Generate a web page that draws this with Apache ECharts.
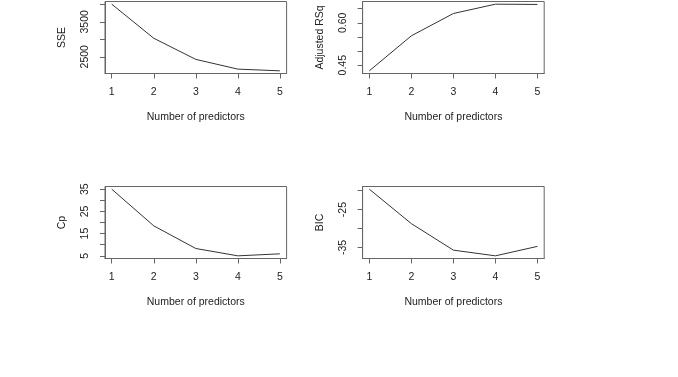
<!DOCTYPE html>
<html>
<head>
<meta charset="utf-8">
<script src="https://cdn.jsdelivr.net/npm/echarts@6/dist/echarts.min.js"></script>
<style>
  html, body { margin: 0; padding: 0; background: #fff; }
  #chart { width: 678px; height: 377px; }
</style>
</head>
<body>
<div id="chart"></div>
<script>
// number of predictors on the x axis
var predictors = [1, 2, 3, 4, 5];
var xTicks = [1, 2, 3, 4, 5];

// criteria
var sse = [4005, 3030, 2425, 2147, 2098];
var adjRsq = [0.430, 0.554, 0.633, 0.666, 0.665];
var cp = [35.0, 18.5, 8.3, 5.0, 5.9];
var bic = [-19.6, -28.7, -35.7, -37.2, -34.7];

// y ticks and which of them carry a label (R drops overlapping ones)
var sseTicks = [2500, 3000, 3500, 4000];
var sseLabels = [2500, 3500];
var rsqTicks = [0.45, 0.5, 0.55, 0.6, 0.65];
var rsqLabels = [0.45, 0.6];
var cpTicks = [5, 10, 15, 20, 25, 30, 35];
var cpLabels = [5, 15, 25, 35];
var bicTicks = [-35, -30, -25, -20];
var bicLabels = [-35, -25];

var font = "'Liberation Sans', Arial, sans-serif";
var boxColor = "#666";
var textColor = "#222";

// R pads the data range by 4% on each side
function padRange(arr) {
  var lo = Math.min.apply(null, arr);
  var hi = Math.max.apply(null, arr);
  var d = (hi - lo) * 0.04;
  return [lo - d, hi + d];
}

var panels = [
  { name: "SSE", values: sse, ticks: sseTicks, labels: sseLabels, digits: 0, left: 105, top: 1.5 },
  { name: "Adjusted RSq", values: adjRsq, ticks: rsqTicks, labels: rsqLabels, digits: 2, left: 362.6, top: 1.5 },
  { name: "Cp", values: cp, ticks: cpTicks, labels: cpLabels, digits: 0, left: 105, top: 186.5 },
  { name: "BIC", values: bic, ticks: bicTicks, labels: bicLabels, digits: 0, left: 362.6, top: 186.5 }
];

var grids = [], xAxes = [], yAxes = [], series = [];
var xr = padRange(predictors);

panels.forEach(function (p, i) {
  var yr = padRange(p.values);
  grids.push({
    left: p.left,
    top: p.top,
    width: 181.6,
    height: 72,
    show: true,
    borderColor: boxColor,
    borderWidth: 1,
    backgroundColor: "transparent",
    containLabel: false,
    outerBoundsMode: "none"
  });
  xAxes.push({
    gridIndex: i,
    type: "value",
    min: xr[0],
    max: xr[1],
    name: "Number of predictors",
    nameLocation: "middle",
    nameGap: 38,
    nameMoveOverlap: false,
    nameTextStyle: { color: textColor, fontFamily: font, fontSize: 10.5 },
    splitLine: { show: false },
    axisLine: { show: true, lineStyle: { color: boxColor } },
    axisTick: { show: true, length: 5, customValues: xTicks, lineStyle: { color: boxColor } },
    axisLabel: { customValues: xTicks, margin: 13, color: textColor, fontFamily: font, fontSize: 10.5 }
  });
  yAxes.push({
    gridIndex: i,
    type: "value",
    min: yr[0],
    max: yr[1],
    name: p.name,
    nameLocation: "middle",
    nameGap: 37,
    nameRotate: 90,
    nameMoveOverlap: false,
    nameTextStyle: { color: textColor, fontFamily: font, fontSize: 10.5 },
    splitLine: { show: false },
    axisLine: { show: true, lineStyle: { color: boxColor } },
    axisTick: { show: true, length: 5, customValues: p.ticks, lineStyle: { color: boxColor } },
    axisLabel: {
      customValues: p.labels,
      rotate: 90,
      margin: 14,
      color: textColor,
      fontFamily: font,
      fontSize: 10.5,
      formatter: function (v) { return v.toFixed(p.digits); }
    }
  });
  series.push({
    type: "line",
    xAxisIndex: i,
    yAxisIndex: i,
    symbol: "none",
    lineStyle: { color: "#333", width: 1 },
    data: predictors.map(function (x, k) { return [x, p.values[k]]; })
  });
});

var myChart = echarts.init(document.getElementById("chart"));
myChart.setOption({
  animation: false,
  grid: grids,
  xAxis: xAxes,
  yAxis: yAxes,
  series: series
});
</script>
</body>
</html>
